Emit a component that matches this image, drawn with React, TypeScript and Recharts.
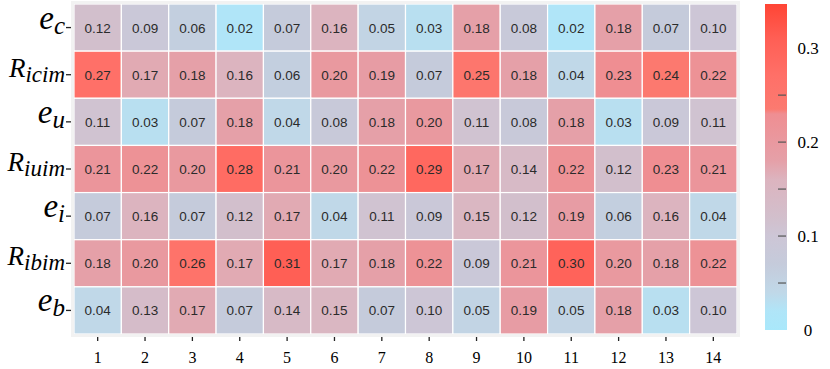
import React from "react";
import { ScatterChart, Scatter, XAxis, YAxis, BarChart, Bar } from "recharts";

// ---- data ----
const columns = [1, 2, 3, 4, 5, 6, 7, 8, 9, 10, 11, 12, 13, 14];
const rowBase = ["e", "R", "e", "R", "e", "R", "e"];
const rowSub = ["c", "icim", "u", "iuim", "i", "ibim", "b"];

const eC = [0.12, 0.09, 0.06, 0.02, 0.07, 0.16, 0.05, 0.03, 0.18, 0.08, 0.02, 0.18, 0.07, 0.1];
const rIcim = [0.27, 0.17, 0.18, 0.16, 0.06, 0.2, 0.19, 0.07, 0.25, 0.18, 0.04, 0.23, 0.24, 0.22];
const eU = [0.11, 0.03, 0.07, 0.18, 0.04, 0.08, 0.18, 0.2, 0.11, 0.08, 0.18, 0.03, 0.09, 0.11];
const rIuim = [0.21, 0.22, 0.2, 0.28, 0.21, 0.2, 0.22, 0.29, 0.17, 0.14, 0.22, 0.12, 0.23, 0.21];
const eI = [0.07, 0.16, 0.07, 0.12, 0.17, 0.04, 0.11, 0.09, 0.15, 0.12, 0.19, 0.06, 0.16, 0.04];
const rIbim = [0.18, 0.2, 0.26, 0.17, 0.31, 0.17, 0.18, 0.22, 0.09, 0.21, 0.3, 0.2, 0.18, 0.22];
const eB = [0.04, 0.13, 0.17, 0.07, 0.14, 0.15, 0.07, 0.1, 0.05, 0.19, 0.05, 0.18, 0.03, 0.1];

const rows = [eC, rIcim, eU, rIuim, eI, rIbim, eB];

const colorbarMax = 0.347;
const colorbarTicks = [0, 0.05, 0.1, 0.15, 0.2, 0.25, 0.3];

// ---- colour map ----
const STOPS: [number, string][] = [
  [0.0, "#a9e8fb"],
  [0.02, "#b0e5f8"],
  [0.04, "#c0d8e8"],
  [0.07, "#c5cbdb"],
  [0.1, "#cdc6d6"],
  [0.12, "#d2bfcc"],
  [0.16, "#dcb4bf"],
  [0.18, "#e5a0a8"],
  [0.23, "#ef8e92"],
  [0.2351, "#fb7a70"],
  [0.27, "#ff7068"],
  [0.31, "#ff5f55"],
  [0.347, "#ff4535"],
];

function hexToRgb(h: string) {
  const n = parseInt(h.slice(1), 16);
  return [(n >> 16) & 255, (n >> 8) & 255, n & 255];
}
function colorFor(v: number) {
  if (v <= STOPS[0][0]) return STOPS[0][1];
  for (let i = 1; i < STOPS.length; i++) {
    if (v <= STOPS[i][0]) {
      const [v0, c0] = STOPS[i - 1];
      const [v1, c1] = STOPS[i];
      const t = (v - v0) / (v1 - v0);
      const a = hexToRgb(c0);
      const b = hexToRgb(c1);
      const m = a.map((x, k) => Math.round(x + (b[k] - x) * t));
      return `rgb(${m[0]},${m[1]},${m[2]})`;
    }
  }
  return STOPS[STOPS.length - 1][1];
}

// ---- layout ----
const W = 830;
const H = 369;
const MARGIN = { top: 4, right: 93, bottom: 0, left: 0 };
const Y_AXIS_W = 74;
const X_AXIS_H = 35;
const PLOT_W = W - MARGIN.left - MARGIN.right - Y_AXIS_W;
const PLOT_H = H - MARGIN.top - MARGIN.bottom - X_AXIS_H;
const CELL_W = PLOT_W / columns.length;
const CELL_H = PLOT_H / rows.length;

const cells = rows.flatMap((vals, r) =>
  vals.map((v, c) => ({ x: columns[c], y: rows.length - r, value: v }))
);

const SERIF = "Liberation Serif";
const SANS = "Liberation Sans";

function CellShape(props: any) {
  const { cx, cy, payload } = props;
  if (cx == null || cy == null) return null;
  return (
    <g>
      <rect
        x={cx - CELL_W / 2}
        y={cy - CELL_H / 2}
        width={CELL_W}
        height={CELL_H}
        fill={colorFor(payload.value)}
        stroke="#ffffff"
        strokeWidth={1.2}
      />
      <text
        x={cx}
        y={cy + 5}
        textAnchor="middle"
        fontFamily={SANS}
        fontSize={13.5}
        fill="#2b2b2b"
      >
        {payload.value.toFixed(2)}
      </text>
    </g>
  );
}

function YTick(props: any) {
  const { x, y, payload } = props;
  const r = rows.length - payload.value;
  const base = rowBase[r];
  const sub = rowSub[r];
  const isE = base === "e";
  return (
    <g>
      <line x1={x - 8} x2={x - 3} y1={y} y2={y} stroke="#222" strokeWidth={1.3} />
      <text
        x={x - 9}
        y={y + (isE ? 1 : 2)}
        textAnchor="end"
        fontFamily={SERIF}
        fontStyle="italic"
        fill="#000"
      >
        <tspan fontSize={isE ? 33 : 27}>{base}</tspan>
        <tspan fontSize={isE ? 25 : 23} dy={5}>
          {sub}
        </tspan>
      </text>
    </g>
  );
}

function XTick(props: any) {
  const { x, y, payload } = props;
  return (
    <g>
      <line x1={x} x2={x} y1={y + 3} y2={y + 7} stroke="#222" strokeWidth={1.3} />
      <text x={x} y={y + 29} textAnchor="middle" fontFamily={SERIF} fontSize={16} fill="#000">
        {payload.value}
      </text>
    </g>
  );
}

function CbTick(props: any) {
  const { x, y, payload } = props;
  const v = payload.value;
  const showDash = v > 0.001 && v < 0.299;
  const showLabel = Math.abs(Math.round(v * 10) - v * 10) < 1e-6;
  return (
    <g>
      {showDash && <line x1={x - 9} x2={x - 1} y1={y} y2={y} stroke="#555" strokeWidth={1.2} />}
      {showLabel && (
        <text
          x={x + 21}
          y={y + 6}
          textAnchor="middle"
          fontFamily={SERIF}
          fontSize={17}
          fill="#000"
        >
          {v === 0 ? "0" : v.toFixed(1)}
        </text>
      )}
    </g>
  );
}

const cbData = [{ name: "cb", v: colorbarMax }];

export default function App() {
  return (
    <div style={{ position: "absolute", left: 0, top: 0, width: W, height: H, background: "#fff" }}>
      <div
        style={{
          position: "absolute",
          left: 71,
          top: 1,
          width: 669,
          height: 336,
          background: "#f2f2f2",
        }}
      />
      <div style={{ position: "absolute", left: 0, top: 0 }}>
        <ScatterChart width={W} height={H} margin={MARGIN}>
          <XAxis
            dataKey="x"
            type="number"
            domain={[0.5, columns.length + 0.5]}
            ticks={columns}
            height={X_AXIS_H}
            axisLine={false}
            tickLine={false}
            tickSize={0}
            tickMargin={0}
            tick={<XTick />}
            interval={0}
            allowDataOverflow
          />
          <YAxis
            dataKey="y"
            type="number"
            domain={[0.5, rows.length + 0.5]}
            ticks={[1, 2, 3, 4, 5, 6, 7]}
            width={Y_AXIS_W}
            axisLine={false}
            tickLine={false}
            tickSize={0}
            tickMargin={0}
            tick={<YTick />}
            interval={0}
            allowDataOverflow
          />
          <Scatter data={cells} shape={<CellShape />} isAnimationActive={false} />
        </ScatterChart>
      </div>
      <div style={{ position: "absolute", left: 765, top: 0 }}>
        <BarChart
          width={65}
          height={H}
          data={cbData}
          margin={{ top: 4, right: 0, bottom: 39, left: 0 }}
          barCategoryGap={0}
        >
          <defs>
            <linearGradient id="cbgrad" x1="0" y1="1" x2="0" y2="0">
              {STOPS.map(([v, c], i) => (
                <stop key={i} offset={v / colorbarMax} stopColor={c} />
              ))}
            </linearGradient>
          </defs>
          <XAxis dataKey="name" hide />
          <YAxis
            orientation="right"
            type="number"
            domain={[0, colorbarMax]}
            ticks={colorbarTicks}
            width={43}
            axisLine={false}
            tickLine={false}
            tickSize={0}
            tickMargin={0}
            tick={<CbTick />}
            interval={0}
          />
          <Bar dataKey="v" fill="url(#cbgrad)" isAnimationActive={false} />
        </BarChart>
      </div>
    </div>
  );
}
